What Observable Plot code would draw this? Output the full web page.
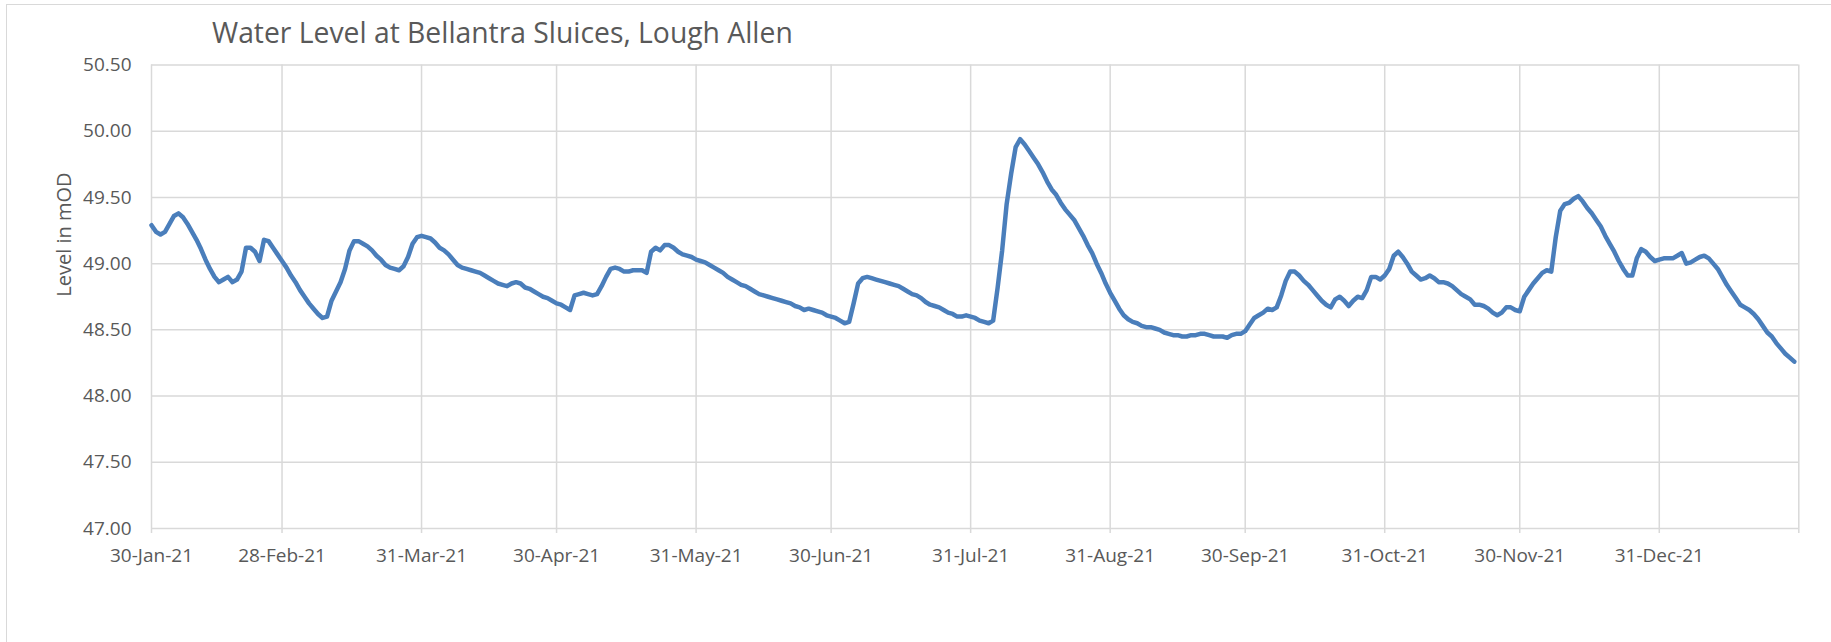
<!DOCTYPE html>
<html>
<head>
<meta charset="utf-8">
<script src="https://cdn.jsdelivr.net/npm/d3@7"></script>
<script src="https://cdn.jsdelivr.net/npm/@observablehq/plot@0.6"></script>
<style>
  html, body { margin: 0; padding: 0; background: #ffffff; }
  #chart { position: relative; width: 1831px; height: 642px; overflow: hidden; font-family: "Open Sans", sans-serif; }
  #frame { position: absolute; left: 6px; top: 4px; width: 2000px; height: 900px; border-top: 1.5px solid #d9d9d9; border-left: 1.5px solid #d9d9d9; box-sizing: border-box; }
  #title { position: absolute; left: 212px; top: 18px; font-size: 28.3px; line-height: 28px; color: #595959; white-space: nowrap; font-weight: 400; }
  #plot { position: absolute; left: 0; top: 0; }
</style>
</head>
<body>
<div id="chart">
  <div id="frame"></div>
  <div id="title"></div>
  <div id="plot"></div>
</div>
<script>
// ---- data ----
const chartTitle = "Water Level at Bellantra Sluices, Lough Allen";
const yTitle = "Level in mOD";
const firstDay = "2021-01-30";   // daily series starts here
const lastDay = "2022-01-31";    // end of the date axis
// daily water level (mOD), one value per day from 30-Jan-21
const levels = [
  49.29, 49.24, 49.22, 49.24, 49.30, 49.36, 49.38, 49.35, 49.30, 49.24, 49.18, 49.11, 49.03, 48.96, 48.90,
  48.86, 48.88, 48.90, 48.86, 48.88, 48.94, 49.12, 49.12, 49.09, 49.02, 49.18, 49.17, 49.12, 49.07, 49.02,
  48.97, 48.91, 48.86, 48.80, 48.75, 48.70, 48.66, 48.62, 48.59, 48.60, 48.72, 48.79, 48.86, 48.96, 49.10,
  49.17, 49.17, 49.15, 49.13, 49.10, 49.06, 49.03, 48.99, 48.97, 48.96, 48.95, 48.98, 49.05, 49.15, 49.20,
  49.21, 49.20, 49.19, 49.16, 49.12, 49.10, 49.07, 49.03, 48.99, 48.97, 48.96, 48.95, 48.94, 48.93, 48.91,
  48.89, 48.87, 48.85, 48.84, 48.83, 48.85, 48.86, 48.85, 48.82, 48.81, 48.79, 48.77, 48.75, 48.74, 48.72,
  48.70, 48.69, 48.67, 48.65, 48.76, 48.77, 48.78, 48.77, 48.76, 48.77, 48.83, 48.90, 48.96, 48.97, 48.96,
  48.94, 48.94, 48.95, 48.95, 48.95, 48.93, 49.09, 49.12, 49.10, 49.14, 49.14, 49.12, 49.09, 49.07, 49.06,
  49.05, 49.03, 49.02, 49.01, 48.99, 48.97, 48.95, 48.93, 48.90, 48.88, 48.86, 48.84, 48.83, 48.81, 48.79,
  48.77, 48.76, 48.75, 48.74, 48.73, 48.72, 48.71, 48.70, 48.68, 48.67, 48.65, 48.66, 48.65, 48.64, 48.63,
  48.61, 48.60, 48.59, 48.57, 48.55, 48.56, 48.70, 48.85, 48.89, 48.90, 48.89, 48.88, 48.87, 48.86, 48.85,
  48.84, 48.83, 48.81, 48.79, 48.77, 48.76, 48.74, 48.71, 48.69, 48.68, 48.67, 48.65, 48.63, 48.62, 48.60,
  48.60, 48.61, 48.60, 48.59, 48.57, 48.56, 48.55, 48.57, 48.82, 49.10, 49.45, 49.68, 49.88, 49.94, 49.90,
  49.85, 49.80, 49.75, 49.69, 49.62, 49.56, 49.52, 49.46, 49.41, 49.37, 49.33, 49.27, 49.21, 49.14, 49.08,
  49.00, 48.93, 48.85, 48.78, 48.72, 48.66, 48.61, 48.58, 48.56, 48.55, 48.53, 48.52, 48.52, 48.51, 48.50,
  48.48, 48.47, 48.46, 48.46, 48.45, 48.45, 48.46, 48.46, 48.47, 48.47, 48.46, 48.45, 48.45, 48.45, 48.44,
  48.46, 48.47, 48.47, 48.49, 48.54, 48.59, 48.61, 48.63, 48.66, 48.65, 48.67, 48.76, 48.87, 48.94, 48.94,
  48.91, 48.87, 48.84, 48.80, 48.76, 48.72, 48.69, 48.67, 48.73, 48.75, 48.72, 48.68, 48.72, 48.75, 48.74,
  48.80, 48.90, 48.90, 48.88, 48.91, 48.96, 49.06, 49.09, 49.05, 49.00, 48.94, 48.91, 48.88, 48.89, 48.91,
  48.89, 48.86, 48.86, 48.85, 48.83, 48.80, 48.77, 48.75, 48.73, 48.69, 48.69, 48.68, 48.66, 48.63, 48.61,
  48.63, 48.67, 48.67, 48.65, 48.64, 48.75, 48.80, 48.85, 48.89, 48.93, 48.95, 48.94, 49.20, 49.40, 49.45,
  49.46, 49.49, 49.51, 49.47, 49.42, 49.38, 49.33, 49.28, 49.21, 49.15, 49.09, 49.02, 48.96, 48.91, 48.91,
  49.04, 49.11, 49.09, 49.05, 49.02, 49.03, 49.04, 49.04, 49.04, 49.06, 49.08, 49.00, 49.01, 49.03, 49.05,
  49.06, 49.04, 49.00, 48.96, 48.90, 48.84, 48.79, 48.74, 48.69, 48.67, 48.65, 48.62, 48.58, 48.53, 48.48,
  48.45, 48.40, 48.36, 48.32, 48.29, 48.26
];
const xTickDates = ["2021-01-30", "2021-02-28", "2021-03-31", "2021-04-30", "2021-05-31", "2021-06-30",
                    "2021-07-31", "2021-08-31", "2021-09-30", "2021-10-31", "2021-11-30", "2021-12-31"];
const yTicks = [47.0, 47.5, 48.0, 48.5, 49.0, 49.5, 50.0, 50.5];

// ---- build ----
const start = new Date(firstDay + "T00:00:00Z");
const end = new Date(lastDay + "T00:00:00Z");
const data = levels.map((v, i) => ({date: d3.utcDay.offset(start, i), level: v}));
const tickDates = xTickDates.map(s => new Date(s + "T00:00:00Z"));
const gridDates = tickDates.concat([end]);

document.getElementById("title").textContent = chartTitle;

const grid = "#d9d9d9";
const svg = Plot.plot({
  width: 1831,
  height: 600,
  marginLeft: 151,
  marginRight: 32.7,
  marginTop: 64.5,
  marginBottom: 72,
  style: {fontFamily: '"Open Sans", sans-serif', fontSize: "19px", color: "#595959", background: "transparent", overflow: "visible"},
  x: {type: "utc", domain: [start, end]},
  y: {domain: [47, 50.5]},
  marks: [
    Plot.ruleY(yTicks, {stroke: grid, strokeWidth: 1.5}),
    Plot.ruleX(gridDates, {stroke: grid, strokeWidth: 1.5, insetBottom: -5}),
    Plot.axisY(yTicks, {tickSize: 0, tickPadding: 20, tickFormat: d3.format(".2f"), label: null}),
    Plot.axisX(tickDates, {tickSize: 0, tickPadding: 20, tickFormat: d3.utcFormat("%d-%b-%y"), label: null}),
    Plot.line(data, {x: "date", y: "level", stroke: "#4a7ebb", strokeWidth: 4.5, strokeLinejoin: "round", strokeLinecap: "round"}),
    Plot.text([yTitle], {frameAnchor: "left", rotate: -90, dx: -86.5, fontSize: 20, text: d => d})
  ]
});
document.getElementById("plot").appendChild(svg);
</script>
</body>
</html>
